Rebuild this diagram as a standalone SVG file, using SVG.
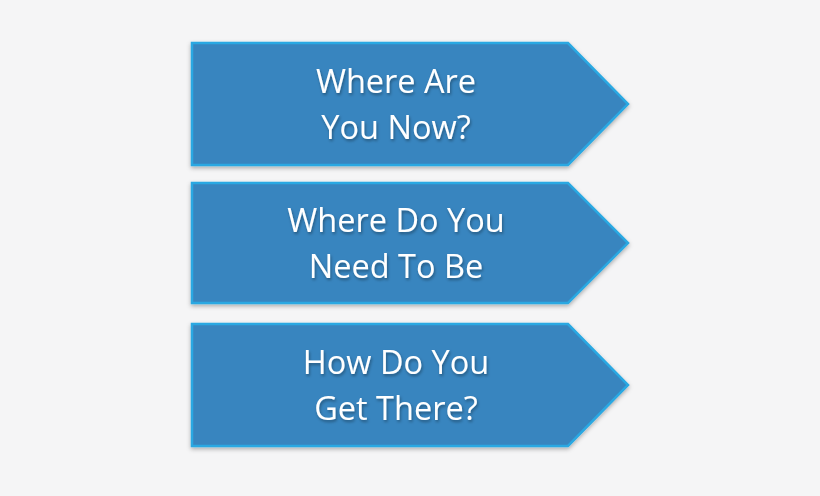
<svg xmlns="http://www.w3.org/2000/svg" width="820" height="496" viewBox="0 0 820 496">
<defs>
<filter id="sh" x="-10%" y="-10%" width="120%" height="130%">
<feDropShadow dx="0" dy="2" stdDeviation="2" flood-color="#000" flood-opacity="0.3"/>
</filter>
<filter id="ts" x="-10%" y="-20%" width="120%" height="150%">
<feDropShadow dx="1" dy="2" stdDeviation="1.5" flood-color="#000" flood-opacity="0.35"/>
</filter>
</defs>
<style>
.arr{fill:#3885bf;stroke:#29a8e2;stroke-width:2.5;filter:url(#sh)}
.t{fill:#ffffff;font-family:"Open Sans","Noto Sans",sans-serif;font-size:32.5px;text-anchor:middle;filter:url(#ts)}
</style>
<rect width="820" height="496" fill="#f5f5f6"/>
<g id="node1">
<polygon class="arr" points="192,43 568,43 628,104 568,165 192,165"/>
<text class="t" x="396" y="93">Where Are</text>
<text class="t" x="396" y="139">You Now?</text>
</g>
<g id="node2">
<polygon class="arr" points="192,183 568,183 628,243 568,303 192,303"/>
<text class="t" x="396" y="232">Where Do You</text>
<text class="t" x="396" y="278">Need To Be</text>
</g>
<g id="node3">
<polygon class="arr" points="192,324 568,324 628,385 568,446 192,446"/>
<text class="t" x="396" y="374">How Do You</text>
<text class="t" x="396" y="420">Get There?</text>
</g>
<g id="connectors"/>
</svg>
